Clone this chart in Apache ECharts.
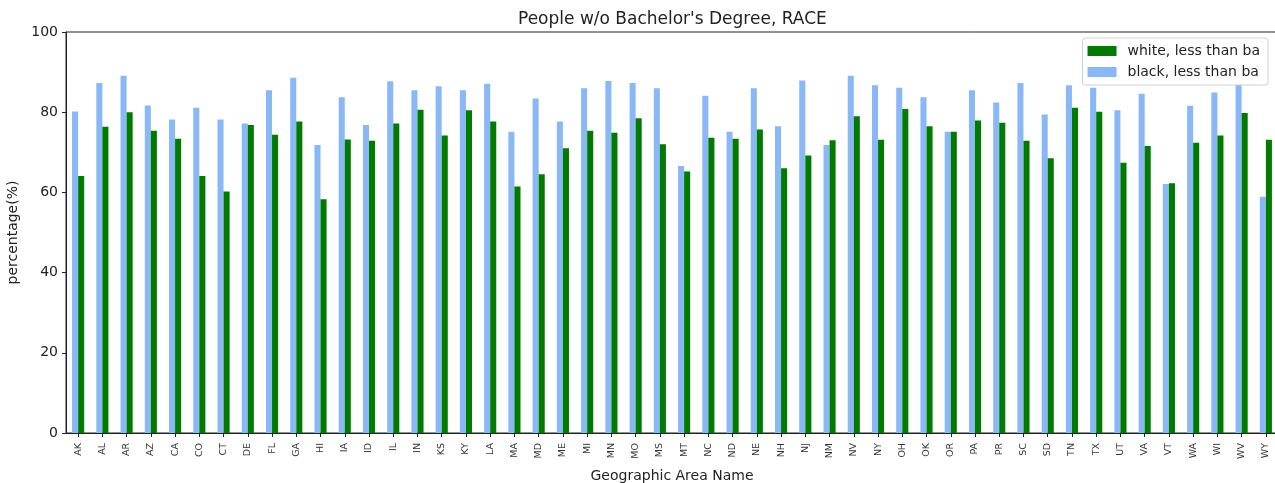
<!DOCTYPE html>
<html>
<head>
<meta charset="utf-8">
<script src="https://cdn.jsdelivr.net/npm/echarts@6/dist/echarts.min.js"></script>
<style>
html,body{margin:0;padding:0;background:#fff;}
#chart{width:1275px;height:483px;}
</style>
</head>
<body>
<div id="chart"></div>
<script>
const categories = ['AK','AL','AR','AZ','CA','CO','CT','DE','FL','GA','HI','IA','ID','IL','IN','KS','KY','LA','MA','MD','ME','MI','MN','MO','MS','MT','NC','ND','NE','NH','NJ','NM','NV','NY','OH','OK','OR','PA','PR','SC','SD','TN','TX','UT','VA','VT','WA','WI','WV','WY'];
const whiteLessThanBa = [64.1,76.4,80.0,75.4,73.4,64.1,60.2,76.8,74.4,77.7,58.3,73.2,72.9,77.2,80.6,74.2,80.5,77.7,61.5,64.5,71.0,75.4,74.9,78.5,72.0,65.2,73.6,73.4,75.7,66.0,69.2,73.0,79.0,73.1,80.8,76.5,75.1,77.9,77.4,72.9,68.5,81.1,80.1,67.4,71.6,62.3,72.4,74.2,79.8,73.1];
const blackLessThanBa = [80.2,87.3,89.1,81.7,78.2,81.1,78.2,77.2,85.5,88.6,71.8,83.7,76.8,87.7,85.5,86.5,85.5,87.1,75.1,83.4,77.7,86.0,87.8,87.3,86.0,66.6,84.1,75.1,86.0,76.5,87.9,71.8,89.1,86.7,86.1,83.7,75.1,85.5,82.4,87.3,79.4,86.7,86.1,80.5,84.6,62.1,81.6,84.9,87.0,58.9];
const yTicks = [0,20,40,60,80,100];

const FONT = 'DejaVu Sans';
const chart = echarts.init(document.getElementById('chart'), null, {renderer:'canvas'});
chart.setOption({
  animation:false,
  backgroundColor:'#fff',
  textStyle:{fontFamily:FONT},
  title:{
    text:"People w/o Bachelor's Degree, RACE",
    left:513, top:6,
    textStyle:{fontFamily:FONT,fontSize:17,fontWeight:'normal',color:'#222'}
  },
  grid:{left:66, top:32, width:1212, height:401, show:true, borderColor:'#222', borderWidth:1, containLabel:false, outerBoundsMode:'none'},
  legend:{
    data:['white, less than ba','black, less than ba'],
    orient:'vertical',
    right:7, top:38,
    itemWidth:29, itemHeight:10, itemGap:7,
    padding:[6,8,6,5],
    backgroundColor:'rgba(255,255,255,0.8)',
    borderColor:'#d0d0d0', borderWidth:1, borderRadius:3,
    textStyle:{fontFamily:FONT,fontSize:14,color:'#222',padding:[0,0,0,6],lineHeight:14},
    icon:'rect'
  },
  xAxis:{
    type:'category',
    data:categories,
    name:'Geographic Area Name',
    nameLocation:'middle',
    nameGap:36,
    nameTextStyle:{fontFamily:FONT,fontSize:14,color:'#222'},
    axisLine:{show:true,lineStyle:{color:'#222',width:1}},
    axisTick:{show:true,alignWithLabel:true,length:4,lineStyle:{color:'#222'}},
    axisLabel:{rotate:90,fontSize:9.5,color:'#333',margin:10,interval:0,fontFamily:FONT}
  },
  yAxis:{
    type:'value',
    min:0,max:100,interval:20,
    name:'percentage(%)',
    nameLocation:'middle',
    nameGap:40,
    nameTextStyle:{fontFamily:FONT,fontSize:14,color:'#222'},
    axisLine:{show:true,lineStyle:{color:'#222',width:1}},
    axisTick:{show:true,length:4,lineStyle:{color:'#222'}},
    axisLabel:{fontSize:14,color:'#222',margin:8,fontFamily:FONT,
      formatter:function(v){return yTicks.indexOf(v)>=0?String(v):'';}},
    splitLine:{show:false}
  },
  series:[
    {name:'black, less than ba',type:'bar',data:blackLessThanBa,barWidth:'25%',barGap:'0%',
     itemStyle:{color:'#8ab8f6'}},
    {name:'white, less than ba',type:'bar',data:whiteLessThanBa,barWidth:'25%',barGap:'0%',
     itemStyle:{color:'#007b00'}}
  ]
});
</script>
</body>
</html>
